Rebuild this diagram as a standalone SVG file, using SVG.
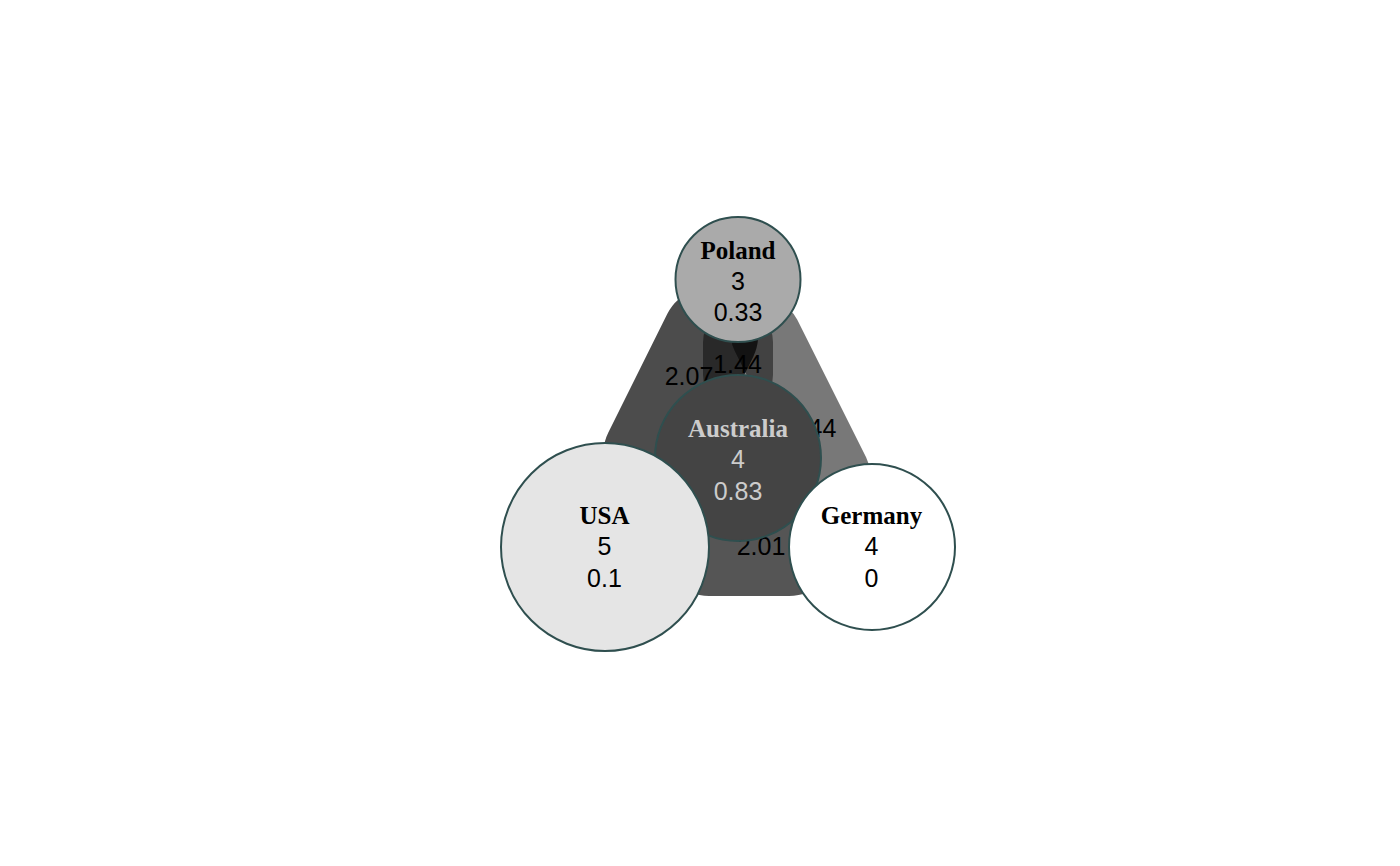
<svg xmlns="http://www.w3.org/2000/svg" width="1400" height="866" viewBox="0 0 1400 866">
  <style>
    .edge { fill: none; stroke: #000; stroke-linecap: round; }
    .elabel { font-family: "Liberation Sans", Arial, sans-serif; font-size: 25px; fill: #000; text-anchor: middle; }
    .node circle { stroke: #2f4f4f; stroke-width: 2; }
    .name { font-family: "Liberation Serif", "Times New Roman", serif; font-weight: bold; font-size: 25px; text-anchor: middle; }
    .val { font-family: "Liberation Sans", Arial, sans-serif; font-size: 25px; text-anchor: middle; }
    .dark text { fill: #cccccc; }
    .light text { fill: #000; }
  </style>
  <rect width="1400" height="866" fill="#ffffff"/>

  <!-- connectors: translucent black bands, width scaled by weight -->
  <g id="edges">
    <line class="edge" x1="710.2" y1="335.5" x2="651.3" y2="453.9" stroke-width="96" stroke-opacity="0.7"/>
    <line class="edge" x1="766" y1="335.4" x2="834.8" y2="472.8" stroke-width="70" stroke-opacity="0.53"/>
    <line class="edge" x1="709" y1="547" x2="789" y2="547" stroke-width="98" stroke-opacity="0.667"/>
    <line class="edge" x1="738" y1="342" x2="738" y2="375" stroke-width="70" stroke-opacity="0.45"/>
    <text class="elabel" x="689" y="385">2.07</text>
    <text class="elabel" x="737.5" y="372.5">1.44</text>
    <text class="elabel" x="812" y="437">1.44</text>
    <text class="elabel" x="761" y="555">2.01</text>
  </g>

  <g id="node-poland" class="node light">
    <circle cx="738" cy="279.5" r="62.5" fill="#aaaaaa"/>
    <text class="name" x="738" y="258.5">Poland</text>
    <text class="val" x="738" y="290">3</text>
    <text class="val" x="738" y="320.5">0.33</text>
  </g>

  <g id="node-australia" class="node dark">
    <circle cx="738" cy="458" r="83" fill="#444444"/>
    <text class="name" x="738" y="436.5">Australia</text>
    <text class="val" x="738" y="468">4</text>
    <text class="val" x="738" y="499.5">0.83</text>
  </g>

  <g id="node-usa" class="node light">
    <circle cx="605" cy="547" r="104" fill="#e5e5e5"/>
    <text class="name" x="604.5" y="523.5">USA</text>
    <text class="val" x="604.5" y="555">5</text>
    <text class="val" x="604.5" y="586.5">0.1</text>
  </g>

  <g id="node-germany" class="node light">
    <circle cx="872" cy="547" r="83" fill="#ffffff"/>
    <text class="name" x="871.5" y="523.5">Germany</text>
    <text class="val" x="871.5" y="555">4</text>
    <text class="val" x="871.5" y="586.5">0</text>
  </g>
</svg>
